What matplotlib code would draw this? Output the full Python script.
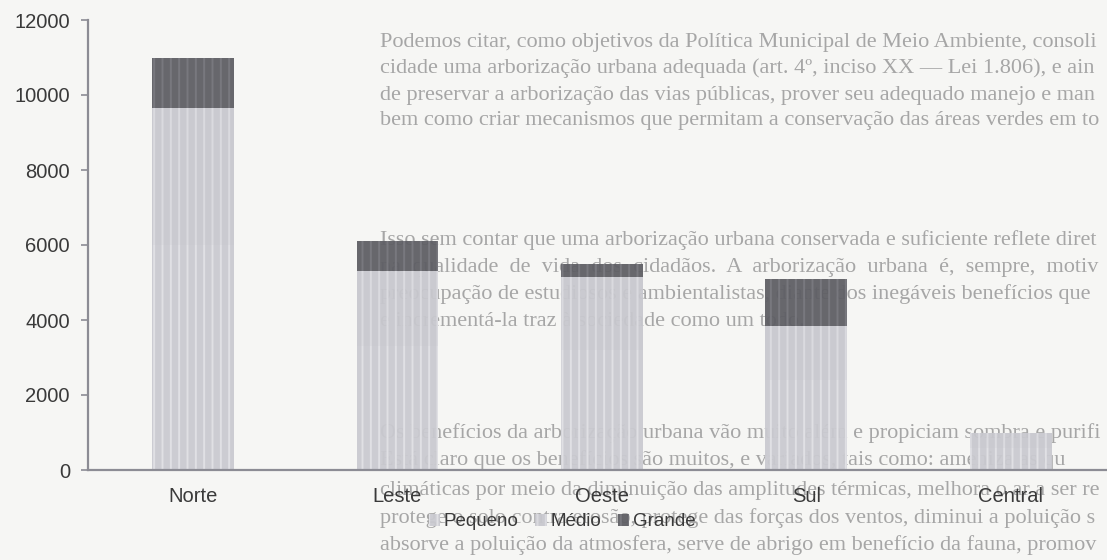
import matplotlib.pyplot as plt
import numpy as np

# dados do grafico
regioes = ["Norte", "Leste", "Oeste", "Sul", "Central"]
pequeno = [6000, 3300, 3200, 2400, 600]
medio = [3650, 2000, 1950, 1450, 400]
grande = [1350, 800, 350, 1250, 0]
series = ["Pequeno", "Médio", "Grande"]
yticks = [0, 2000, 4000, 6000, 8000, 10000, 12000]

# texto da pagina por tras do grafico
linhas_pagina = [
    (42, "Podemos citar, como objetivos da Política Municipal de Meio Ambiente, consoli"),
    (68, "cidade uma arborização urbana adequada (art. 4º, inciso XX — Lei 1.806), e ainda o"),
    (95, "de preservar a arborização das vias públicas, prover seu adequado manejo e manute"),
    (121, "bem como criar mecanismos que permitam a conservação das áreas verdes em toda c"),
    (240, "Isso sem contar que uma arborização urbana conservada e suficiente reflete diretam"),
    (267, "na  qualidade  de  vida  dos  cidadãos.  A  arborização  urbana  é,  sempre,  motivo"),
    (294, "preocupação de estudiosos e ambientalistas, diante dos inegáveis benefícios que ma"),
    (321, "e incrementá-la traz à sociedade como um todo."),
    (433, "Os benefícios da arborização urbana vão muito além e propiciam sombra e purifica"),
    (460, "Está claro que os benefícios são muitos, e variados, tais como: ameniza as qu"),
    (490, "climáticas por meio da diminuição das amplitudes térmicas, melhora o ar a ser resp"),
    (518, "protege o solo contra erosão, protege das forças dos ventos, diminui a poluição so"),
    (545, "absorve a poluição da atmosfera, serve de abrigo em benefício da fauna, promovendo"),
]

plt.rcParams["font.family"] = ["Liberation Sans", "DejaVu Sans"]
plt.rcParams["hatch.linewidth"] = 1.4

fig = plt.figure(figsize=(11.07, 5.60), dpi=100, facecolor="#f6f6f4")
W, H = 1107, 560
renderer = fig.canvas.get_renderer()

# corta cada linha para caber na largura da pagina
for y, t in linhas_pagina:
    txt = fig.text(380 / W, 1 - y / H, t, family="Liberation Serif", fontsize=16,
                   color="#a6a6a6", va="center", ha="left", zorder=0)
    while txt.get_window_extent(renderer).x1 > W - 3:
        t = t[:-1]
        txt.set_text(t)

ax = fig.add_axes([88 / W, 1 - 470 / H, 1 - 88 / W, 450 / H])
ax.set_facecolor("none")
ax.set_zorder(2)

x = np.arange(len(regioes))
largura = 0.4
cores = ["#cacad0", "#c8c8ce", "#5e5e64"]
listras = ["#e2e2e6", "#dcdce1", "#7a7a80"]
base = np.zeros(len(regioes))
for nome, vals, cor, lst in zip(series, [pequeno, medio, grande], cores, listras):
    ax.bar(x, vals, largura, bottom=base, color=cor, edgecolor=lst, hatch="||",
           linewidth=0, label=nome, alpha=0.94)
    base += np.array(vals)

ax.set_xlim(-0.513, 4.47)
ax.set_ylim(0, 12000)
ax.set_yticks(yticks)
ax.set_yticklabels([str(v) for v in yticks])
ax.set_xticks(x)
ax.set_xticklabels(regioes)

for s in ["top", "right"]:
    ax.spines[s].set_visible(False)
ax.spines["left"].set_color("#8c8c94")
ax.spines["bottom"].set_color("#8c8c94")
ax.spines["left"].set_linewidth(1.6)
ax.spines["bottom"].set_linewidth(1.6)
ax.tick_params(axis="y", length=5, width=1.2, color="#8c8c94", labelsize=14.5,
               labelcolor="#3a3a3a", pad=8)
ax.tick_params(axis="x", length=0, labelsize=14.5, labelcolor="#3a3a3a", pad=12)

leg = fig.legend(loc="center", bbox_to_anchor=(562 / W, 1 - 522 / H), ncol=3,
                 frameon=False, fontsize=13.5, handlelength=0.6, handleheight=0.6,
                 handletextpad=0.2, columnspacing=0.9)
for t in leg.get_texts():
    t.set_color("#3a3a3a")

plt.savefig("out.png", dpi=100, facecolor=fig.get_facecolor())
